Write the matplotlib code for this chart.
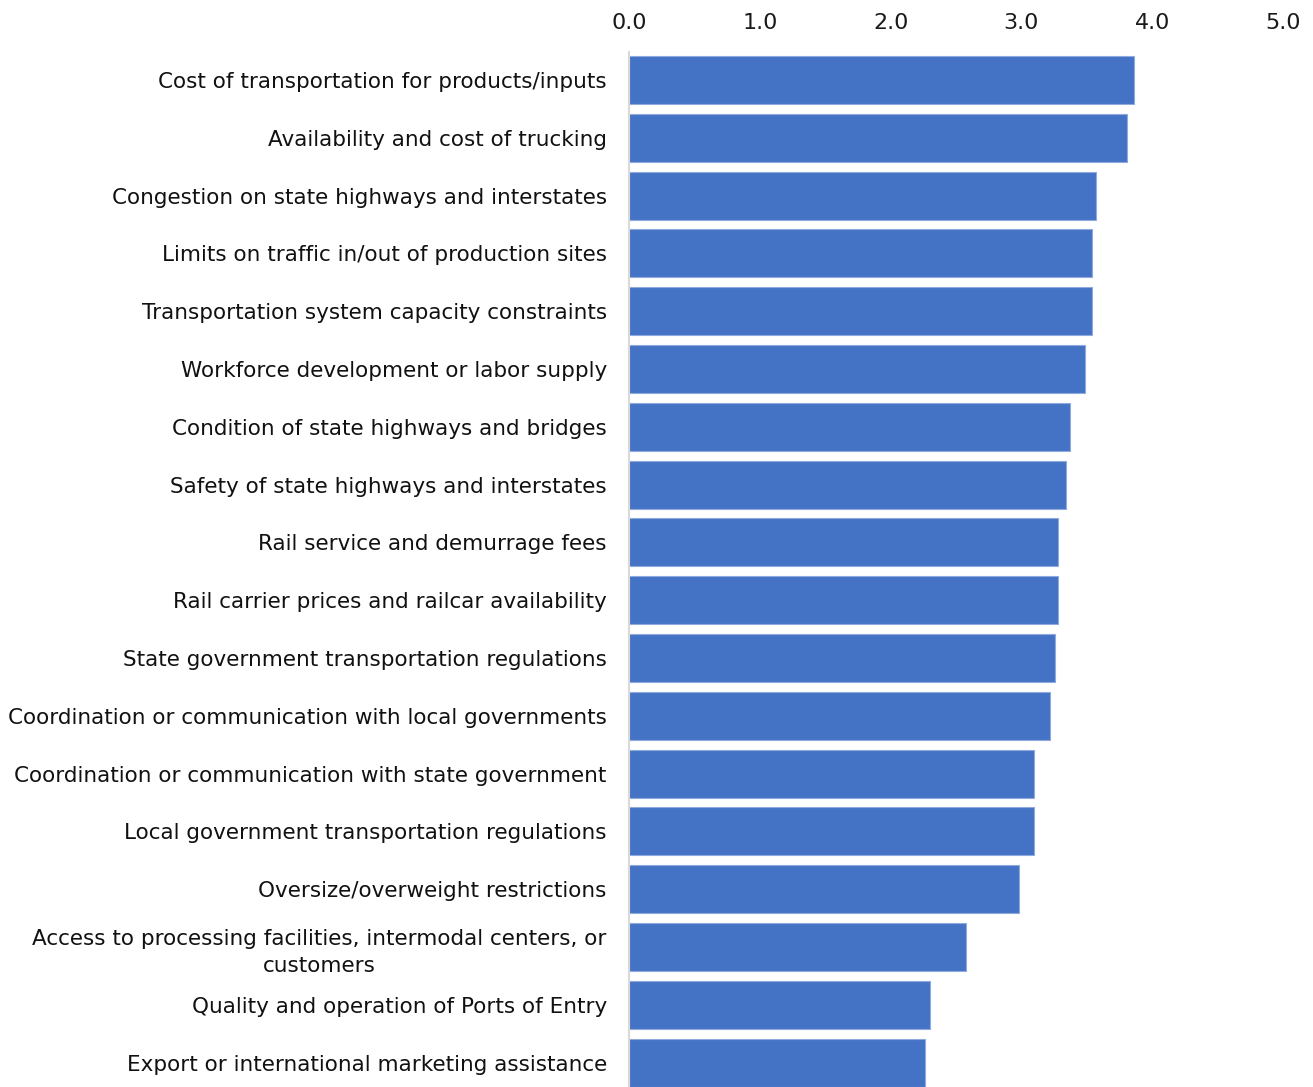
import matplotlib.pyplot as plt
import numpy as np

labels = ["Cost of transportation for products/inputs",
          "Availability and cost of trucking",
          "Congestion on state highways and interstates",
          "Limits on traffic in/out of production sites",
          "Transportation system capacity constraints",
          "Workforce development or labor supply",
          "Condition of state highways and bridges",
          "Safety of state highways and interstates",
          "Rail service and demurrage fees",
          "Rail carrier prices and railcar availability",
          "State government transportation regulations",
          "Coordination or communication with local governments",
          "Coordination or communication with state government",
          "Local government transportation regulations",
          "Oversize/overweight restrictions",
          "Access to processing facilities, intermodal centers, or\ncustomers",
          "Quality and operation of Ports of Entry",
          "Export or international marketing assistance"]
scores = [3.86, 3.81, 3.57, 3.54, 3.54, 3.49, 3.37, 3.34, 3.28, 3.28,
          3.26, 3.22, 3.10, 3.10, 2.98, 2.58, 2.30, 2.26]
ticks = [0.0, 1.0, 2.0, 3.0, 4.0, 5.0]

plt.rcParams['font.family'] = ['DejaVu Sans']
fig = plt.figure(figsize=(13.13, 10.87), dpi=100)
ax = fig.add_axes([629/1313, 0, (1283-629)/1313, (1087-52)/1087])

y = np.arange(len(labels))
ax.barh(y, scores, height=0.83, color='#4472C4', edgecolor='#8FAADC', linewidth=0.8)

ax.set_xlim(0, 5)
ax.set_ylim(17.42, -0.484)
ax.set_xticks(ticks)
ax.set_xticklabels([f"{t:.1f}" for t in ticks], fontsize=16, color='#1a1a1a')
ax.xaxis.tick_top()
ax.tick_params(axis='x', length=0, pad=14)
ax.set_yticks(y)
ax.set_yticklabels(labels, fontsize=15.5, color='#111111', multialignment='center',
                   linespacing=1.45)
ax.tick_params(axis='y', length=0, pad=16)

for s in ['top', 'right', 'bottom']:
    ax.spines[s].set_visible(False)
ax.spines['left'].set_color('#D9D9D9')
ax.spines['left'].set_linewidth(1.5)

fig.savefig('out.png', dpi=100)
